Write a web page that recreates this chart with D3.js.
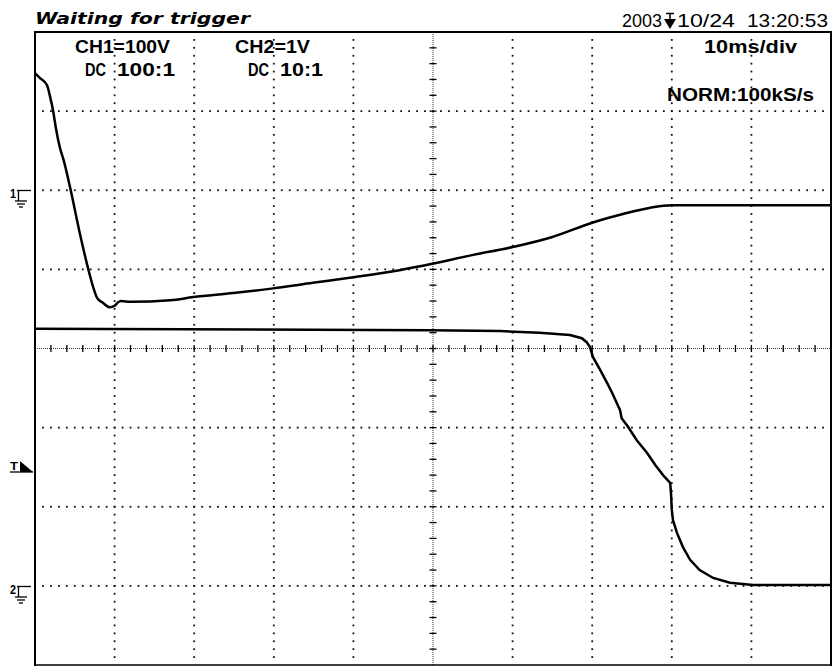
<!DOCTYPE html>
<html><head><meta charset="utf-8">
<script src="https://cdn.jsdelivr.net/npm/d3@7"></script>
<style>body{margin:0;background:#fff}svg{display:block}</style>
</head><body>
<script>
// ---- data ----
const ch1Time = [-50,-49.4,-48.5,-48.1,-47.7,-47.4,-46.9,-46.4,-45.6,-44.4,-43.3,-42.7,-42.2,-41.5,-40.6,-40,-39.6,-39.2,-38,-33,-30.1,-25.1,-20.1,-15.1,-10,-4.2,-0.1,4.9,9.9,15,20,23.5,27.3,30,40,50];
const ch1Volts = [148,142,133,118,99,80,55,38,4,-53,-100,-122,-136,-142,-148,-146,-142,-140,-141,-139,-135,-130,-124,-117,-110,-101,-93,-82,-72,-59,-41,-31,-22,-19,-19,-19];
const ch2Time = [-50,-0.4,8.4,13.4,17.2,18.7,19.3,19.7,20.1,21,21.9,22.5,23.5,23.7,24.5,25.6,26.9,27.9,28.9,29.8,29.9,30,30.15,30.65,31.4,32.3,33.5,35.2,37.3,40.2,50];
const ch2Volts = [3.25,3.23,3.22,3.2,3.17,3.13,3.08,3.02,2.89,2.73,2.56,2.44,2.22,2.12,2.01,1.84,1.68,1.53,1.4,1.3,1.17,0.96,0.83,0.67,0.49,0.33,0.2,0.1,0.04,0.01,0.01];
const headerText = "Waiting for trigger";
const dateParts = ["2003", "10/24", "13:20:53"];
const ch1Labels = ["CH1=100V", "DC", "100:1"];
const ch2Labels = ["CH2=1V", "DC", "10:1"];
const timebaseLabel = "10ms/div";
const modeLabel = "NORM:100kS/s";
const ch1Ground = 0, ch2Ground = 0, trigLevelV = 1.5;

const W = 835, H = 666;
const L = 35, R = 831, T = 32, B = 665;
const x = d3.scaleLinear().domain([-50, 50]).range([L, R]);
const div = d3.scaleLinear().domain([-4, 4]).range([B, T]);
const y1 = d3.scaleLinear().domain([-600, 200]).range([B, T]); // 100 V/div, ground at +2 div
const y2 = d3.scaleLinear().domain([-1, 7]).range([B, T]);     // 1 V/div, ground at -3 div

const svg = d3.select("body").append("svg").attr("width", W).attr("height", H);
const g = svg.append("g");

// ---- grid dots ----
const dots = [];
const dx = (R - L) / 100, dy = (B - T) / 80;
for (let k = 1; k <= 9; k++) {
  if (k === 5) continue;
  const xv = x(-50 + k * 10);
  for (let j = 1; j < 80; j++) dots.push([xv, T + j * dy]);
}
for (let k = 1; k <= 7; k++) {
  if (k === 4) continue;
  const yv = div(-4 + k);
  for (let j = 1; j < 100; j++) dots.push([L + j * dx, yv]);
}
g.selectAll("rect.dot").data(dots).join("rect").attr("class", "dot")
  .attr("x", d => d[0] - 0.9).attr("y", d => d[1] - 0.9)
  .attr("width", 1.8).attr("height", 1.8).attr("fill", "#111");

// ---- center lines with ticks ----
const cx = x(0), cy = div(0);
g.append("line").attr("x1", L).attr("x2", R).attr("y1", cy).attr("y2", cy)
  .attr("stroke", "#333").attr("stroke-width", 1).attr("stroke-dasharray", "1,1");
g.append("line").attr("x1", cx).attr("x2", cx).attr("y1", T).attr("y2", B)
  .attr("stroke", "#333").attr("stroke-width", 1).attr("stroke-dasharray", "1,1");
const hTicks = d3.range(1, 50).map(i => -50 + i * 2);
g.selectAll("line.ht").data(hTicks).join("line").attr("class", "ht")
  .attr("x1", d => x(d)).attr("x2", d => x(d)).attr("y1", cy - 3.5).attr("y2", cy + 3.5)
  .attr("stroke", "#000").attr("stroke-width", 1.3);
const vTicks = d3.range(1, 40).map(i => -4 + i * 0.2);
g.selectAll("line.vt").data(vTicks).join("line").attr("class", "vt")
  .attr("y1", d => div(d)).attr("y2", d => div(d)).attr("x1", cx - 3.5).attr("x2", cx + 3.5)
  .attr("stroke", "#000").attr("stroke-width", 1.3);

// ---- traces ----
svg.append("clipPath").attr("id", "clip").append("rect").attr("x", L).attr("y", T).attr("width", R - L).attr("height", B - T);
const line1 = d3.line().x((d, i) => x(ch1Time[i])).y((d, i) => y1(ch1Volts[i])).curve(d3.curveMonotoneX);
const line2 = d3.line().x((d, i) => x(ch2Time[i])).y((d, i) => y2(ch2Volts[i])).curve(d3.curveLinear);
g.append("path").attr("d", line1(ch1Time)).attr("fill", "none").attr("stroke", "#000").attr("stroke-width", 2.5).attr("clip-path", "url(#clip)");
g.append("path").attr("d", line2(ch2Time)).attr("fill", "none").attr("stroke", "#000").attr("stroke-width", 2.5).attr("clip-path", "url(#clip)");

// ---- frame ----
g.append("line").attr("x1", L).attr("x2", L).attr("y1", T - 1).attr("y2", B + 1).attr("stroke", "#000").attr("stroke-width", 2);
g.append("line").attr("x1", L - 1).attr("x2", R + 1).attr("y1", T).attr("y2", T).attr("stroke", "#000").attr("stroke-width", 2);
g.append("line").attr("x1", R).attr("x2", R).attr("y1", T - 1).attr("y2", B + 1).attr("stroke", "#000").attr("stroke-width", 2);
g.append("line").attr("x1", L - 1).attr("x2", R + 1).attr("y1", B).attr("y2", B).attr("stroke", "#000").attr("stroke-width", 1.5);

// ---- texts ----
function txt(s, xx, yy, len, opts = {}) {
  const t = svg.append("text").attr("x", xx).attr("y", yy).text(s)
    .attr("font-family", opts.family || "'Liberation Sans', Arial, sans-serif")
    .attr("font-size", opts.size || 17.5)
    .attr("font-weight", opts.weight || "bold")
    .attr("fill", "#000");
  if (opts.style) t.attr("font-style", opts.style);
  if (len) t.attr("textLength", len).attr("lengthAdjust", "spacingAndGlyphs");
  return t;
}
txt(headerText, 35, 24, 215, {family: "'DejaVu Sans', sans-serif", size: 16, style: "italic"});
txt(dateParts[0], 622, 27, 40, {weight: "normal", size: 18});
txt(dateParts[1], 677, 27, 58, {weight: "normal", size: 18});
txt(dateParts[2], 747, 27, 81, {weight: "normal", size: 18});
txt(ch1Labels[0], 75, 53, 95);
txt(ch1Labels[1], 85, 76, 21);
txt(ch1Labels[2], 117, 76, 58);
txt(ch2Labels[0], 235, 53, 75);
txt(ch2Labels[1], 248, 76, 21);
txt(ch2Labels[2], 280, 76, 43);
txt(timebaseLabel, 704, 53, 93);
txt(modeLabel, 667, 101, 147);

// trigger position marker (top)
svg.append("line").attr("x1", 666).attr("x2", 674).attr("y1", 13.5).attr("y2", 13.5).attr("stroke", "#000").attr("stroke-width", 1.5);
svg.append("line").attr("x1", 670).attr("x2", 670).attr("y1", 13).attr("y2", 21).attr("stroke", "#000").attr("stroke-width", 1.5);
svg.append("path").attr("d", "M664,19 L676,19 L670,29 Z").attr("fill", "#000");

// ground markers
function ground(label, yy) {
  txt(label, 10, yy + 8, 6, {size: 12});
  const s = svg.append("g").attr("stroke", "#000").attr("stroke-width", 1.3);
  s.append("line").attr("x1", 17).attr("x2", 31).attr("y1", yy + 0.5).attr("y2", yy + 0.5);
  s.append("line").attr("x1", 18.5).attr("x2", 18.5).attr("y1", yy).attr("y2", yy + 11);
  s.append("line").attr("x1", 15).attr("x2", 27).attr("y1", yy + 11).attr("y2", yy + 11);
  s.append("line").attr("x1", 17).attr("x2", 25).attr("y1", yy + 14).attr("y2", yy + 14);
  s.append("line").attr("x1", 19).attr("x2", 23).attr("y1", yy + 17).attr("y2", yy + 17);
}
ground("1", Math.round(y1(ch1Ground)));
ground("2", Math.round(y2(ch2Ground)));

// trigger level marker
const ty = Math.round(y2(trigLevelV));
txt("T", 10, ty + 3, 8, {size: 11});
svg.append("line").attr("x1", 10).attr("x2", 33).attr("y1", ty + 5).attr("y2", ty + 5).attr("stroke", "#000").attr("stroke-width", 1.3);
svg.append("path").attr("d", `M20,${ty - 6} L33,${ty + 5} L20,${ty + 5} Z`).attr("fill", "#000");
</script>
</body></html>
